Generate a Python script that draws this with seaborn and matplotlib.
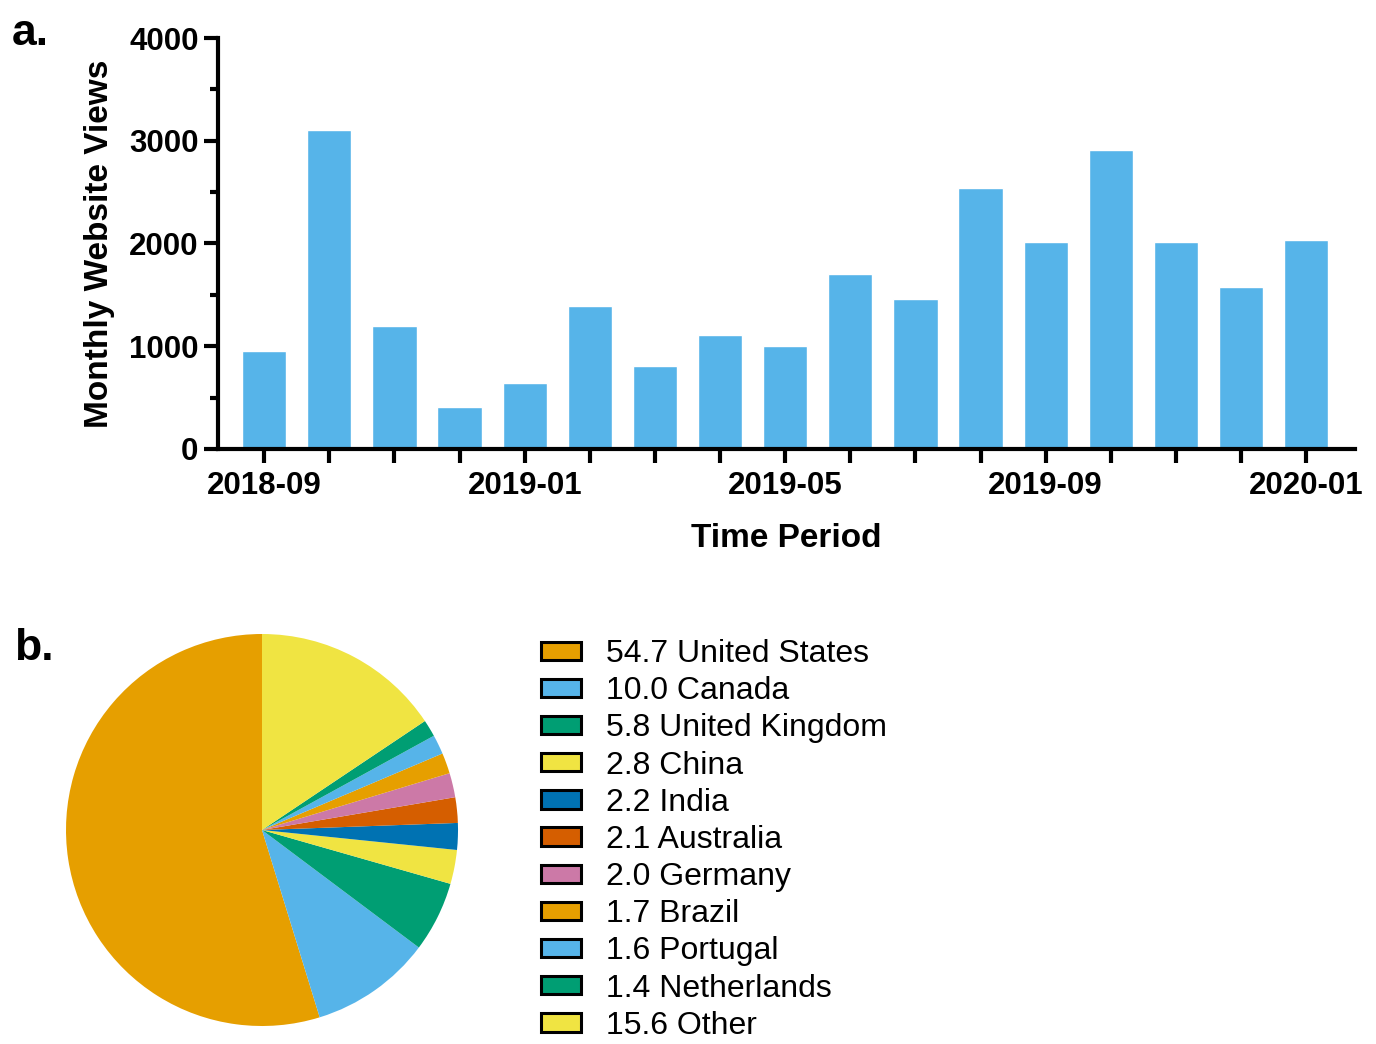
import numpy as np
import pandas as pd
import matplotlib.pyplot as plt
import seaborn as sns

# monthly views, 2018-09 .. 2020-01
months = ['2018-09', '2018-10', '2018-11', '2018-12', '2019-01', '2019-02',
          '2019-03', '2019-04', '2019-05', '2019-06', '2019-07', '2019-08',
          '2019-09', '2019-10', '2019-11', '2019-12', '2020-01']
views = [953, 3103, 1197, 409, 645, 1391, 807, 1109, 1005, 1702, 1459,
         2539, 2014, 2909, 2014, 1576, 2035]
shown_months = ['2018-09', '2019-01', '2019-05', '2019-09', '2020-01']

countries = ['United States', 'Canada', 'United Kingdom', 'China', 'India',
             'Australia', 'Germany', 'Brazil', 'Portugal', 'Netherlands', 'Other']
shares = [54.7, 10.0, 5.8, 2.8, 2.2, 2.1, 2.0, 1.7, 1.6, 1.4, 15.6]

okabe = ['#E69F00', '#56B4E9', '#009E73', '#F0E442', '#0072B2', '#D55E00', '#CC79A7']
pie_colors = [okabe[i % len(okabe)] for i in range(len(countries))]

sns.set_style('ticks')
plt.rcParams['font.family'] = ['Liberation Sans', 'DejaVu Sans']
plt.rcParams['text.color'] = 'black'
plt.rcParams['axes.labelcolor'] = 'black'
plt.rcParams['xtick.color'] = 'black'
plt.rcParams['ytick.color'] = 'black'

fig = plt.figure(figsize=(13.76, 10.44), dpi=100)

# ---- a. bar chart
ax = fig.add_axes([218 / 1376, 1 - 449 / 1044, (1355 - 218) / 1376, (449 - 38) / 1044])
df = pd.DataFrame({'month': months, 'views': views})
sns.barplot(data=df, x='month', y='views', color='#56B4E9', saturation=1,
            width=0.68, ax=ax)

ax.set_xlim(-0.71, 16.75)
ax.set_ylim(0, 4000)
ax.set_yticks(np.arange(0, 4001, 1000))
ax.set_yticks(np.arange(500, 4000, 1000), minor=True)
ax.set_xticks(range(len(months)))
ax.set_xticklabels([m if m in shown_months else '' for m in months])

for lab in ax.get_xticklabels() + ax.get_yticklabels():
    lab.set_fontweight('bold')
    lab.set_fontsize(22.5)

ax.tick_params(axis='both', which='major', width=3, length=10, color='black')
ax.tick_params(axis='y', which='minor', width=3, length=6, color='black')
ax.tick_params(axis='x', pad=6)
ax.tick_params(axis='y', pad=4)

for side in ['top', 'right']:
    ax.spines[side].set_visible(False)
for side in ['left', 'bottom']:
    ax.spines[side].set_linewidth(3)
    ax.spines[side].set_color('black')

ax.set_xlabel('Time Period', fontsize=24, fontweight='bold', labelpad=16)
ax.set_ylabel('Monthly Website Views', fontsize=24, fontweight='bold', labelpad=10)

fig.text(12 / 1376, 1 - 45 / 1044, 'a.', fontsize=32, fontweight='bold')
fig.text(14 / 1376, 1 - 660 / 1044, 'b.', fontsize=32, fontweight='bold')

# ---- b. pie chart
pax = fig.add_axes([66 / 1376, 1 - 1026 / 1044, 392 / 1376, 392 / 1044])
wedges, _ = pax.pie(shares, colors=pie_colors, startangle=90, counterclock=True,
                    radius=1, wedgeprops={'linewidth': 0})
pax.set_xlim(-1, 1)
pax.set_ylim(-1, 1)
pax.set_aspect('equal')

handles = [plt.Rectangle((0, 0), 1, 1, facecolor=c, edgecolor='black', linewidth=2.2)
           for c in pie_colors]
labels = [f'{s:.1f} {c}' for s, c in zip(shares, countries)]
fig.legend(handles, labels, loc='upper left', bbox_to_anchor=(541 / 1376, 1 - 639 / 1044),
           frameon=False, fontsize=23, handlelength=1.25, handleheight=0.5,
           handletextpad=0.8, labelspacing=0.225, borderpad=0, borderaxespad=0)

fig.savefig('out.png', dpi=100)
